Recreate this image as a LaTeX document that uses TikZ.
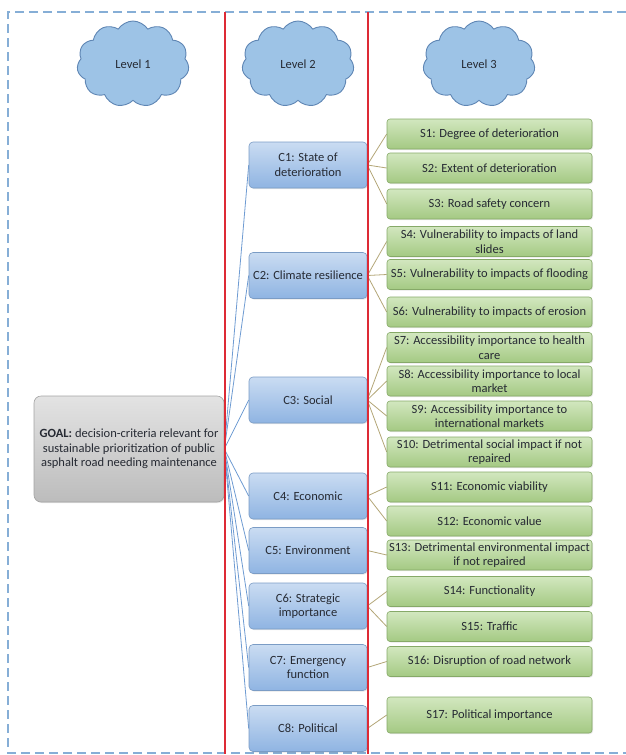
\documentclass[tikz,border=0pt]{standalone}
\usepackage{fontspec}
\setmainfont{Carlito}
\usetikzlibrary{shapes.symbols,backgrounds,shadows}

\definecolor{textgray}{HTML}{262A33}
\definecolor{cloudfill}{HTML}{9DC3E6}
\definecolor{cloudline}{HTML}{5F86B4}
\definecolor{crittop}{HTML}{CADCF2}
\definecolor{critbot}{HTML}{8FB4E2}
\definecolor{critline}{HTML}{7B9CC5}
\definecolor{subtop}{HTML}{D2E7BF}
\definecolor{subbot}{HTML}{A4C983}
\definecolor{subline}{HTML}{86A968}
\definecolor{goaltop}{HTML}{E3E3E3}
\definecolor{goalbot}{HTML}{BCBCBC}
\definecolor{goalline}{HTML}{A3A3A3}
\definecolor{goalconn}{HTML}{6E9BD2}
\definecolor{subconn}{HTML}{B3A677}
\definecolor{borderblue}{HTML}{86AED6}
\definecolor{levelred}{HTML}{DD2A35}

\begin{document}
\begin{tikzpicture}[x=1pt,y=-1pt,
    every node/.style={text=textgray,font=\fontsize{12.5}{14.5}\selectfont},
    levelcloud/.style={cloud,cloud puffs=11,cloud puff arc=115,aspect=1.3,
      draw=cloudline,fill=cloudfill,line width=0.9pt,
      minimum width=112pt,minimum height=86pt,inner sep=0pt},
    critbox/.style={rectangle,rounded corners=4pt,draw=critline,line width=0.6pt,
      top color=crittop,bottom color=critbot,align=center,
      minimum width=118pt,minimum height=46pt,inner xsep=1pt,inner ysep=0pt,
      drop shadow={opacity=0.2,shadow xshift=1pt,shadow yshift=-1pt}},
    subbox/.style={rectangle,rounded corners=3pt,draw=subline,line width=0.6pt,
      top color=subtop,bottom color=subbot,align=center,
      minimum width=205pt,minimum height=30pt,inner xsep=1pt,inner ysep=0pt,
      drop shadow={opacity=0.2,shadow xshift=1pt,shadow yshift=-1pt}},
    goalbox/.style={rectangle,rounded corners=7pt,draw=goalline,line width=0.6pt,
      top color=goaltop,bottom color=goalbot,align=center,
      minimum width=190pt,minimum height=106pt,inner sep=1pt,
      drop shadow={opacity=0.2,shadow xshift=1pt,shadow yshift=-1pt}},
    goalwire/.style={draw=goalconn,line width=0.8pt},
    subwire/.style={draw=subconn,line width=0.8pt},
    levelsep/.style={draw=levelred,line width=1.2pt},
    outerdash/.style={draw=borderblue,line width=2pt,dash pattern=on 9pt off 5pt}]
  \useasboundingbox (0,0) rectangle (626,755);

  % outer frame
  \draw[outerdash] (626,12) -- (8,12) -- (8,753) -- (626,753);

  % levels
  \node[levelcloud] (lev1) at (133,64) {Level 1};
  \node[levelcloud] (lev2) at (298,64) {Level 2};
  \node[levelcloud] (lev3) at (479,64) {Level 3};

  % goal
  \node[goalbox] (goal) at (129,449)
    {\textbf{GOAL:} decision-criteria relevant for\\sustainable prioritization of public\\asphalt road needing maintenance};

  % criteria
  \node[critbox] (c1) at (308,165)   {C1: State of\\deterioration};
  \node[critbox] (c2) at (308,275.5) {C2: Climate resilience};
  \node[critbox] (c3) at (308,400)   {C3: Social};
  \node[critbox] (c4) at (308,496)   {C4: Economic};
  \node[critbox] (c5) at (308,550.5) {C5: Environment};
  \node[critbox] (c6) at (308,606)   {C6: Strategic\\importance};
  \node[critbox] (c7) at (308,667.5) {C7: Emergency\\function};
  \node[critbox] (c8) at (308,728.5) {C8: Political};

  % sub-criteria
  \node[subbox] (s1)  at (489.5,134)   {S1: Degree of deterioration};
  \node[subbox] (s2)  at (489.5,168)   {S2: Extent of deterioration};
  \node[subbox] (s3)  at (489.5,204)   {S3: Road safety concern};
  \node[subbox] (s4)  at (489.5,241.5) {S4: Vulnerability to impacts of land\\slides};
  \node[subbox] (s5)  at (489.5,274.5) {S5: Vulnerability to impacts of flooding};
  \node[subbox] (s6)  at (489.5,312)   {S6: Vulnerability to impacts of erosion};
  \node[subbox] (s7)  at (489.5,347.5) {S7: Accessibility importance to health\\care};
  \node[subbox] (s8)  at (489.5,381)   {S8: Accessibility importance to local\\market};
  \node[subbox] (s9)  at (489.5,416)   {S9: Accessibility importance to\\international markets};
  \node[subbox] (s10) at (489.5,452)   {S10: Detrimental social impact if not\\repaired};
  \node[subbox] (s11) at (489.5,487)   {S11: Economic viability};
  \node[subbox] (s12) at (489.5,521)   {S12: Economic value};
  \node[subbox] (s13) at (489.5,555)   {S13: Detrimental environmental impact\\if not repaired};
  \node[subbox] (s14) at (489.5,591.5) {S14: Functionality};
  \node[subbox] (s15) at (489.5,626.5) {S15: Traffic};
  \node[subbox] (s16) at (489.5,661.5) {S16: Disruption of road network};
  \node[subbox,minimum height=36pt] (s17) at (489.5,715) {S17: Political importance};

  % connectors behind the boxes
  \begin{pgfonlayer}{background}
    \foreach \i in {1,...,8}
      \draw[goalwire] (goal.east) -- (c\i.west);
    \foreach \c/\s in {c1/s1,c1/s2,c1/s3,c2/s4,c2/s5,c2/s6,c3/s7,c3/s8,c3/s9,c3/s10,
        c4/s11,c4/s12,c5/s13,c6/s14,c6/s15,c7/s16,c8/s17}
      \draw[subwire] (\c.east) -- (\s.west);
  \end{pgfonlayer}

  % level separators
  \draw[levelsep] (225,12) -- (225,754);
  \draw[levelsep] (368,12) -- (368,754);
\end{tikzpicture}
\end{document}
